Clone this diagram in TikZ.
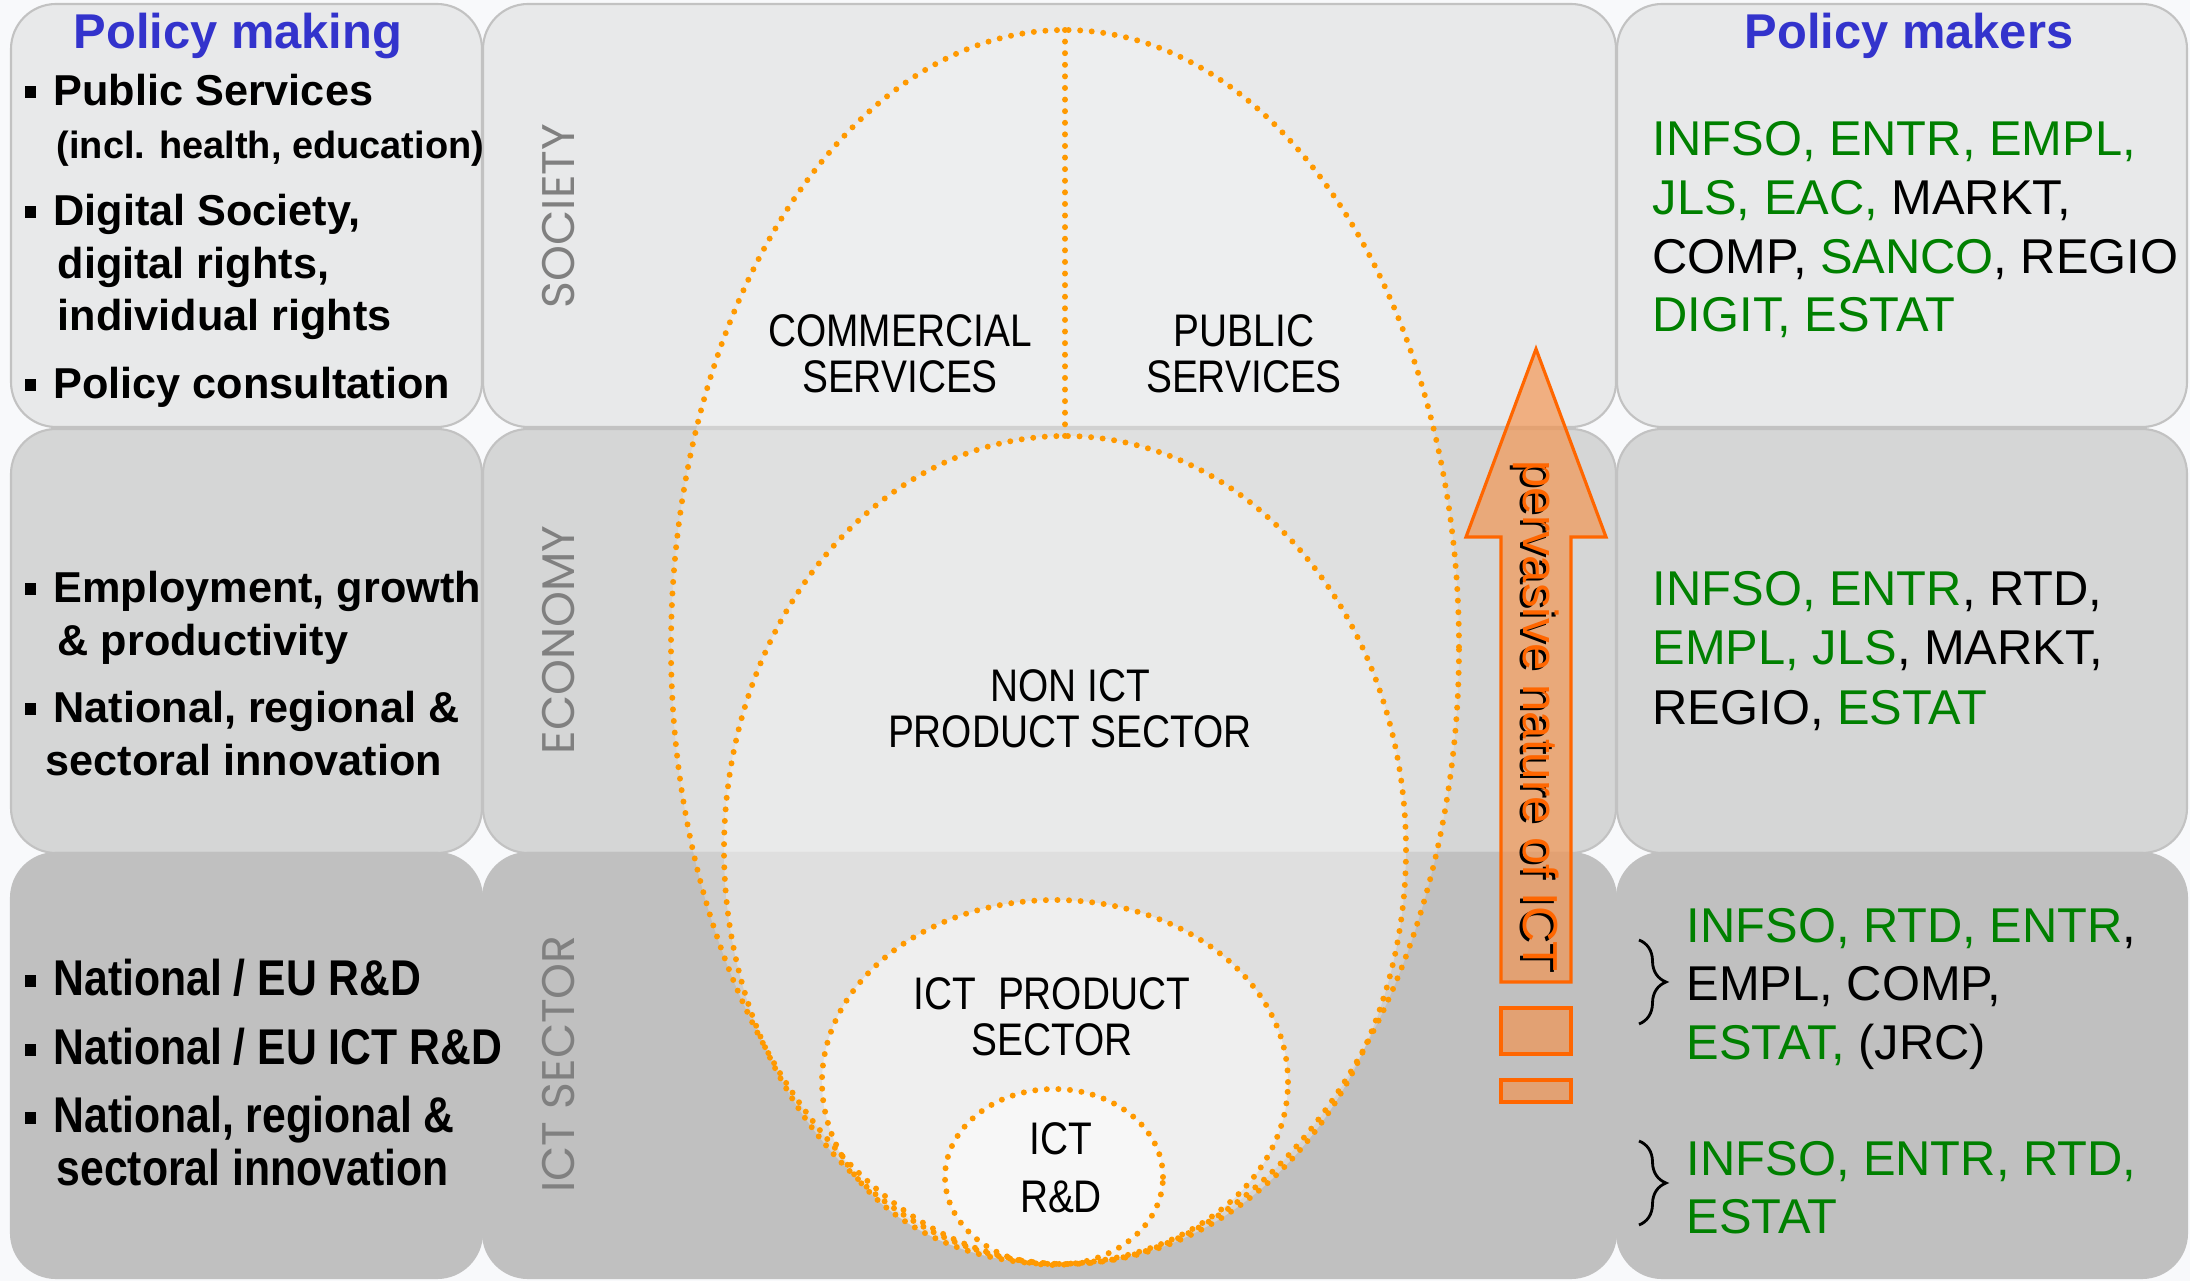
\documentclass[tikz,border=0pt]{standalone}
\usepackage{fontspec}
\setmainfont{Liberation Sans}
\newfontfamily\narrowfont[FakeStretch=0.85]{Liberation Sans}
\newfontfamily\condfont[FakeStretch=0.85]{Liberation Sans}
\newfontfamily\gothicfont{Poppins}
\usetikzlibrary{decorations.pathreplacing}

\definecolor{bgcol}{HTML}{F8F9FB}
\definecolor{socfill}{HTML}{E8E9EA}
\definecolor{ecofill}{HTML}{D5D6D6}
\definecolor{ictfill}{HTML}{C0C0C0}
\definecolor{boxline}{HTML}{C2C2C2}
\definecolor{dotorange}{HTML}{FF9900}
\definecolor{headblue}{HTML}{3333CC}
\definecolor{dggreen}{HTML}{008000}
\definecolor{arrowline}{HTML}{FF6600}
\definecolor{arrowfill}{HTML}{F5914A}
\definecolor{rowgray}{HTML}{808080}

\newcommand{\gr}[1]{\textcolor{dggreen}{#1}}
\newcommand{\bul}{\makebox[8.2pt][l]{\rule[0.17em]{3.3pt}{3.3pt}}}

\tikzset{
  rowbox/.style={draw=boxline, line width=0.6pt, rounded corners=0.45cm},
  sector/.style={draw=dotorange, line width=1.7pt, line cap=round, dash pattern=on 0pt off 3.3pt},
  lbl/.style={font=\narrowfont\fontsize{13}{13.1}\selectfont, align=center, inner sep=0pt},
  rowname/.style={font=\gothicfont\fontsize{13}{15}\selectfont, text=rowgray, rotate=90},
  headtxt/.style={font=\bfseries\fontsize{13.9}{16}\selectfont, text=headblue},
  item/.style={anchor=mid west, inner sep=0pt, font=\bfseries\fontsize{12.3}{15}\selectfont},
  ictitem/.style={anchor=mid west, inner sep=0pt, font=\condfont\bfseries\fontsize{14.3}{15}\selectfont},
  dg/.style={anchor=mid west, inner sep=0pt, font=\fontsize{13.9}{16.8}\selectfont},
}

\begin{document}
\begin{tikzpicture}
  \useasboundingbox (0,0) rectangle (21.90,12.81);
  \fill[bgcol] (0,0) rectangle (21.90,12.81);

  % rows: society, economy, ict sector
  \draw[rowbox, fill=socfill] (0.11,8.54) rectangle (4.82,12.77);
  \draw[rowbox, fill=socfill] (4.83,8.54) rectangle (16.16,12.77);
  \draw[rowbox, fill=socfill] (16.17,8.54) rectangle (21.87,12.77);
  \draw[rowbox, fill=ecofill] (0.11,4.28) rectangle (4.82,8.52);
  \draw[rowbox, fill=ecofill] (4.83,4.28) rectangle (16.16,8.52);
  \draw[rowbox, fill=ecofill] (16.17,4.28) rectangle (21.87,8.52);
  \draw[rowbox, draw=ictfill, fill=ictfill] (0.11,0.03) rectangle (4.82,4.28);
  \draw[rowbox, draw=ictfill, fill=ictfill] (4.83,0.03) rectangle (16.16,4.28);
  \draw[rowbox, draw=ictfill, fill=ictfill] (16.17,0.03) rectangle (21.87,4.28);

  % nested sectors
  \fill[white, fill opacity=0.25] (10.65,6.34) ellipse [x radius=3.94, y radius=6.17];
  \fill[white, fill opacity=0.34] (10.65,4.31) ellipse [x radius=3.41, y radius=4.14];
  \fill[white, fill opacity=0.53] (10.55,1.99) ellipse [x radius=2.33, y radius=1.82];
  \fill[white, fill opacity=0.53] (10.54,1.04) ellipse [x radius=1.09, y radius=0.88];
  \draw[sector] (10.65,6.34) ellipse [x radius=3.94, y radius=6.17];
  \draw[sector] (10.65,4.31) ellipse [x radius=3.41, y radius=4.14];
  \draw[sector] (10.55,1.99) ellipse [x radius=2.33, y radius=1.82];
  \draw[sector] (10.54,1.04) ellipse [x radius=1.09, y radius=0.88];
  \coordinate (outertop) at (10.65,12.51);
  \coordinate (nontop) at (10.65,8.45);
  \draw[sector] (outertop) -- (nontop);

  \node[lbl] (commercial) at (9.00,9.27) {COMMERCIAL\\SERVICES};
  \node[lbl] (public) at (12.44,9.27) {PUBLIC\\SERVICES};
  \node[lbl] (nonict) at (10.70,5.72) {NON ICT\\PRODUCT SECTOR};
  \node[lbl] (ictprod) at (10.52,2.64) {ICT~~PRODUCT\\SECTOR};
  \node[lbl, font=\narrowfont\fontsize{13}{16.5}\selectfont] (ictrd) at (10.61,1.13) {ICT\\R\&D};

  \node[rowname] (society) at (5.59,10.65) {SOCIETY};
  \node[rowname] (economy) at (5.59,6.41) {ECONOMY};
  \node[rowname] (ictsector) at (5.59,2.17) {ICT SECTOR};

  % policy making
  \node[headtxt] (making) at (2.38,12.45) {Policy making};
  \node[item] (pub) at (0.24,11.85) {\bul Public Services};
  \node[item, font=\bfseries\fontsize{10.8}{13}\selectfont] (incl) at (0.56,11.32) {(incl. health, education)};
  \node[item] (digi) at (0.24,10.65) {\bul Digital Society,};
  \node[item] (digirights) at (0.57,10.12) {digital rights,};
  \node[item] (indiv) at (0.57,9.60) {individual rights};
  \node[item] (consult) at (0.24,8.92) {\bul Policy consultation};
  \node[item] (employ) at (0.24,6.88) {\bul Employment, growth};
  \node[item] (produc) at (0.57,6.35) {\& productivity};
  \node[item] (natreg) at (0.24,5.68) {\bul National, regional \&};
  \node[item] (sectinno) at (0.45,5.15) {sectoral innovation};
  \node[ictitem] (natrd) at (0.24,2.95) {\bul National / EU R\&D};
  \node[ictitem] (natictrd) at (0.24,2.26) {\bul National / EU ICT R\&D};
  \node[ictitem] (natreg2) at (0.24,1.58) {\bul National, regional \&};
  \node[ictitem] (sectinno2) at (0.56,1.05) {sectoral innovation};

  % policy makers
  \node[headtxt] (makers) at (19.09,12.45) {Policy makers};
  \node[dg] (s1) at (16.52,11.35) {\gr{INFSO, ENTR, EMPL,}};
  \node[dg] (s2) at (16.52,10.76) {\gr{JLS, EAC,} MARKT,};
  \node[dg] (s3) at (16.52,10.17) {COMP, \gr{SANCO}, REGIO};
  \node[dg] (s4) at (16.52,9.59) {\gr{DIGIT, ESTAT}};
  \node[dg] (e1) at (16.52,6.85) {\gr{INFSO, ENTR}, RTD,};
  \node[dg] (e2) at (16.52,6.26) {\gr{EMPL, JLS}, MARKT,};
  \node[dg] (e3) at (16.52,5.66) {REGIO, \gr{ESTAT}};
  \node[dg] (i1) at (16.86,3.48) {\gr{INFSO, RTD, ENTR},};
  \node[dg] (i2) at (16.86,2.90) {EMPL, COMP,};
  \node[dg] (i3) at (16.86,2.31) {\gr{ESTAT,} (JRC)};
  \node[dg] (r1) at (16.86,1.15) {\gr{INFSO, ENTR, RTD,}};
  \node[dg] (r2) at (16.86,0.57) {\gr{ESTAT}};
  \draw[line width=0.8pt, decorate, decoration={brace, amplitude=0.27cm}] (16.39,3.41) -- (16.39,2.57);
  \draw[line width=0.8pt, decorate, decoration={brace, amplitude=0.27cm}] (16.39,1.40) -- (16.39,0.56);

  % pervasive arrow
  \filldraw[draw=arrowline, fill=arrowfill, fill opacity=0.65, line width=0.9pt, line join=miter]
    (15.01,2.99) -- (15.01,7.44) -- (14.66,7.44) -- (15.36,9.32) -- (16.06,7.44)
    -- (15.71,7.44) -- (15.71,2.99) -- cycle;
  \filldraw[draw=arrowline, fill=arrowfill, fill opacity=0.65, line width=0.9pt] (15.01,2.27) rectangle (15.71,2.73);
  \filldraw[draw=arrowline, fill=arrowfill, fill opacity=0.65, line width=0.9pt] (15.01,1.79) rectangle (15.71,2.01);
  \node[rotate=-90, text=black, font=\fontsize{14}{16}\selectfont] (shadow) at (15.335,5.63) {pervasive nature of ICT};
  \node[rotate=-90, text=arrowline, font=\fontsize{14}{16}\selectfont] (nature) at (15.36,5.65) {pervasive nature of ICT};
\end{tikzpicture}
\end{document}
